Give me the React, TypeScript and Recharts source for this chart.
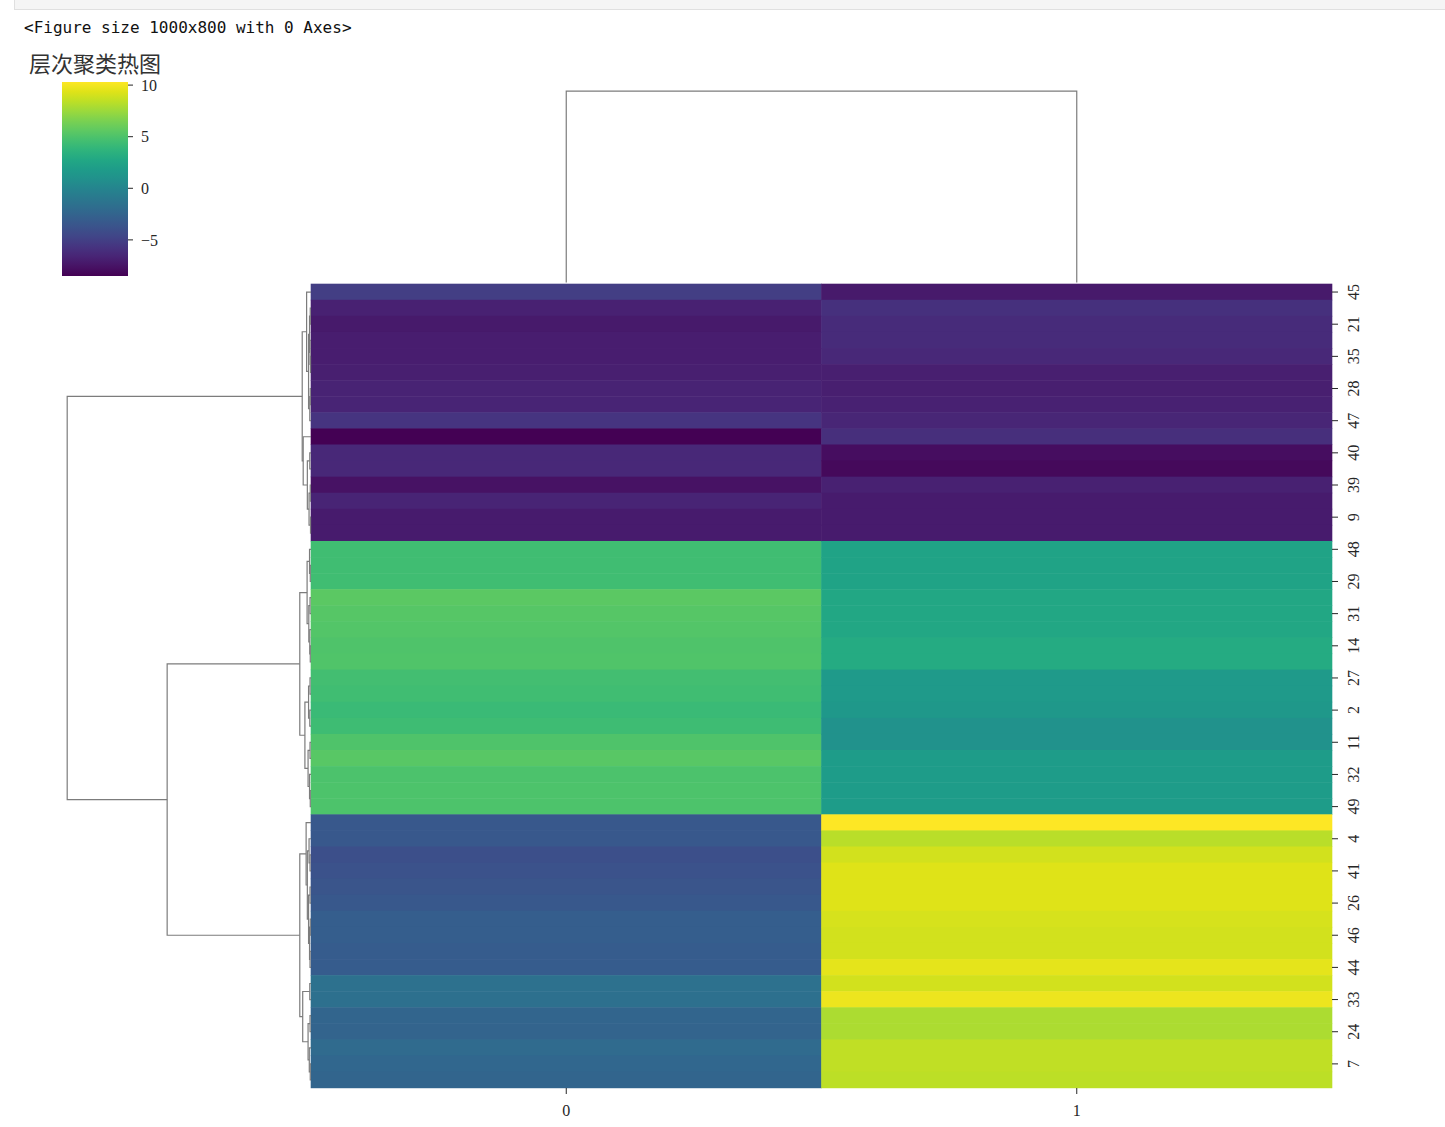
import React from 'react';
import { BarChart, Bar, Cell, XAxis, YAxis, ScatterChart, Scatter } from 'recharts';

const W = 1445;
const H = 1127;

// Row order (leaf order of the row dendrogram); only every other label is shown
const rowLabels = [
  45, 0, 21, 1, 35, 3, 28, 5, 47, 6, 40, 8, 39, 10, 9, 12,
  48, 13, 29, 15, 31, 16, 14, 17, 27, 18, 2, 19, 11, 20, 32, 22, 49,
  23, 4, 25, 41, 30, 26, 34, 46, 36, 44, 37, 33, 38, 24, 42, 7, 43,
];

// Column "0" values per row
const col0Values = [
  -5.1, -6.8, -7.2, -7.0, -7.0, -6.9, -6.7, -6.6, -5.7, -8.5, -6.4, -6.4, -7.6, -6.6, -7.1, -7.1,
  4.5, 4.5, 4.5, 5.5, 5.3, 5.2, 5.05, 5.1, 4.6, 4.5, 4.2, 4.4, 5.05, 5.4, 4.95, 5.0, 5.0,
  -3.4, -3.4, -4.0, -3.8, -3.6, -3.4, -2.9, -2.9, -3.05, -3.05, -1.55, -1.6, -2.4, -2.5, -2.0, -2.3, -2.4,
];

// Column "1" values per row
const col1Values = [
  -7.2, -5.9, -6.2, -6.2, -6.4, -6.9, -6.9, -6.8, -6.5, -6.0, -7.85, -8.1, -6.8, -7.1, -7.1, -7.1,
  2.4, 2.4, 2.4, 2.7, 2.7, 2.7, 3.0, 3.0, 1.65, 1.65, 1.5, 1.0, 1.0, 1.85, 1.85, 1.85, 1.85,
  10.3, 8.3, 9.0, 9.35, 9.35, 9.35, 9.1, 9.0, 9.0, 9.55, 9.0, 9.8, 7.95, 7.95, 8.5, 8.5, 8.4,
];

const columnTicks = [0.5, 1.5];
const colorbarTicks = [-5, 0, 5, 10];

// Row linkage tree: [height, left, right]; leaves are row positions
type Tree = number | [number, Tree, Tree];
const rowTree: Tree = [100,
  [3.6,
    [1.8, 0, [1.0, [0.6, [0.3, 1, 2], [0.4, 3, [0.2, 4, 5]]], [0.5, [0.3, 6, 7], 8]]],
    [3.2, 9, [1.5, [0.5, 10, 11], [0.8, [0.3, 12, 13], [0.2, 14, 15]]]]],
  [59,
    [4.6,
      [1.6, [0.6, 16, [0.3, 17, 18]], [0.9, [0.4, 19, 20], [0.5, 21, [0.3, 22, 23]]]],
      [2.5, [1.0, [0.4, 24, 25], [0.5, 26, 27]], [1.2, [0.4, 28, 29], [0.6, 30, [0.3, 31, 32]]]]],
    [4.6,
      [2.0, 33, [1.5, [0.8, 34, [0.4, 35, 36]], [1.0, [0.4, 37, 38], [0.6, [0.3, 39, 40], [0.4, 41, 42]]]]],
      [3.4, [0.5, 43, 44], [1.2, [0.4, 45, 46], [0.7, 47, [0.3, 48, 49]]]]]]];

// Column linkage tree
const colTree: Tree = [100, 0, 1];

const VIRIDIS = [
  '#440154', '#471365', '#482475', '#463480', '#414487', '#3b528b', '#355f8d',
  '#2f6c8e', '#2a788e', '#25848e', '#21918c', '#1e9c89', '#22a884', '#2fb47c',
  '#44bf70', '#5ec962', '#7ad151', '#9bd93c', '#bddf26', '#dfe318', '#fde725',
];

function hexToRgb(h: string) {
  return [parseInt(h.slice(1, 3), 16), parseInt(h.slice(3, 5), 16), parseInt(h.slice(5, 7), 16)];
}

function viridis(t: number) {
  const c = Math.max(0, Math.min(1, t)) * (VIRIDIS.length - 1);
  const i = Math.min(Math.floor(c), VIRIDIS.length - 2);
  const f = c - i;
  const a = hexToRgb(VIRIDIS[i]);
  const b = hexToRgb(VIRIDIS[i + 1]);
  const m = a.map((v, k) => Math.round(v + (b[k] - v) * f));
  return `rgb(${m[0]},${m[1]},${m[2]})`;
}

const allValues = [...col0Values, ...col1Values];
const vmin = Math.min(...allValues);
const vmax = Math.max(...allValues);
const colorOf = (v: number) => viridis((v - vmin) / (vmax - vmin));

const heatRows = rowLabels.map((lab, i) => ({
  label: String(lab),
  w0: 1,
  w1: 1,
  v0: col0Values[i],
  v1: col1Values[i],
}));

type Pt = { d: number; p: number };
function buildLinks(node: Tree, out: Pt[][]): { pos: number; h: number } {
  if (typeof node === 'number') return { pos: node + 0.5, h: 0 };
  const [h, l, r] = node;
  const a = buildLinks(l, out);
  const b = buildLinks(r, out);
  out.push([
    { d: a.h, p: a.pos },
    { d: h, p: a.pos },
    { d: h, p: b.pos },
    { d: b.h, p: b.pos },
  ]);
  return { pos: (a.pos + b.pos) / 2, h };
}

const rowLinks: Pt[][] = [];
buildLinks(rowTree, rowLinks);
const colLinks: Pt[][] = [];
buildLinks(colTree, colLinks);

const TEXT = '#262626';
const SERIF = '"Liberation Serif", "DejaVu Serif", serif';
const TREE_COLOR = '#7c7c7c';

const Nothing = () => <g />;

// Heat cell: rectangle drawn from the library-computed geometry, slightly
// padded so neighbouring cells do not leave anti-aliased seams.
const HeatCell = (props: any) => {
  const { x, y, width, height, fill } = props;
  return (
    <rect x={x - 0.3} y={y - 0.3} width={width + 0.6} height={height + 0.6} fill={fill} stroke="none" />
  );
};

const RowTick = (props: any) => {
  const { x, y, payload } = props;
  return (
    <g transform={`translate(${x + 13},${y})`}>
      <text transform="rotate(-90)" textAnchor="middle" dy="0.35em" fill={TEXT} fontSize={16} fontFamily={SERIF}>
        {payload.value}
      </text>
    </g>
  );
};

const fmtMinus = (v: number) => (v < 0 ? '\u2212' + Math.abs(v) : String(v));

export default function App() {
  const HEAT_LEFT = 311;
  const HEAT_RIGHT = 1332;
  const HEAT_TOP = 284;
  const HEAT_BOTTOM = 1088;

  const abs = (extra: any = {}) => ({ position: 'absolute' as const, left: 0, top: 0, ...extra });

  return (
    <div style={{ position: 'absolute', left: 0, top: 0, width: W, height: H, background: '#fff', overflow: 'hidden' }}>
      <div style={{ position: 'absolute', left: 14, top: -1, width: W - 14, height: 10, background: '#f5f5f5', borderBottom: '1px solid #e0e0e0', borderLeft: '1px solid #e0e0e0' }} />
      <div style={{ position: 'absolute', left: 24, top: 19.5, fontFamily: '"DejaVu Sans Mono", monospace', fontSize: 16, lineHeight: 1, color: '#111', whiteSpace: 'pre' }}>
        {'<Figure size 1000x800 with 0 Axes>'}
      </div>
      <div style={{ position: 'absolute', left: 29, top: 51, fontFamily: '"Noto Sans CJK SC", sans-serif', fontSize: 22, lineHeight: 1, color: '#333', whiteSpace: 'pre' }}>
        层次聚类热图
      </div>

      {/* Heatmap */}
      <div style={abs()}>
        <BarChart
          width={W}
          height={H}
          data={heatRows}
          layout="vertical"
          barCategoryGap={0}
          barGap={0}
          margin={{ left: HEAT_LEFT, right: W - HEAT_RIGHT - 50, top: HEAT_TOP, bottom: H - HEAT_BOTTOM - 30 }}
        >
          <XAxis
            type="number"
            domain={[0, 2]}
            ticks={columnTicks}
            tickFormatter={(v: number) => String(v - 0.5)}
            axisLine={false}
            tickSize={6}
            tickMargin={11}
            height={30}
            tickLine={{ stroke: TEXT }}
            tick={{ fill: TEXT, fontSize: 16, fontFamily: SERIF }}
          />
          <YAxis
            type="category"
            dataKey="label"
            orientation="right"
            width={50}
            interval={1}
            axisLine={false}
            tickSize={6}
            tickLine={{ stroke: TEXT }}
            tick={<RowTick />}
          />
          <Bar dataKey="w0" stackId="h" isAnimationActive={false} shape={<HeatCell />}>
            {heatRows.map((r, i) => (
              <Cell key={`a${i}`} fill={colorOf(r.v0)} />
            ))}
          </Bar>
          <Bar dataKey="w1" stackId="h" isAnimationActive={false} shape={<HeatCell />}>
            {heatRows.map((r, i) => (
              <Cell key={`b${i}`} fill={colorOf(r.v1)} />
            ))}
          </Bar>
        </BarChart>
      </div>

      {/* Row dendrogram */}
      <div style={abs()}>
        <ScatterChart width={W} height={H} margin={{ left: 55, right: W - HEAT_LEFT, top: HEAT_TOP, bottom: H - HEAT_BOTTOM }}>
          <XAxis type="number" dataKey="d" domain={[0, 105]} reversed hide />
          <YAxis type="number" dataKey="p" domain={[0, 50]} reversed hide />
          {rowLinks.map((lk, i) => (
            <Scatter
              key={`r${i}`}
              data={lk}
              line={{ stroke: TREE_COLOR, strokeWidth: 1.2 }}
              lineType="joint"
              shape={Nothing}
              isAnimationActive={false}
            />
          ))}
        </ScatterChart>
      </div>

      {/* Column dendrogram */}
      <div style={abs()}>
        <ScatterChart width={W} height={H} margin={{ left: HEAT_LEFT, right: W - HEAT_RIGHT, top: 81.5, bottom: H - 282.5 }}>
          <XAxis type="number" dataKey="p" domain={[0, 2]} hide />
          <YAxis type="number" dataKey="d" domain={[0, 105]} hide />
          {colLinks.map((lk, i) => (
            <Scatter
              key={`c${i}`}
              data={lk}
              line={{ stroke: TREE_COLOR, strokeWidth: 1.2 }}
              lineType="joint"
              shape={Nothing}
              isAnimationActive={false}
            />
          ))}
        </ScatterChart>
      </div>

      {/* Colorbar */}
      <div style={abs()}>
        <BarChart
          width={220}
          height={300}
          data={[{ k: 'cb', v: [vmin, vmax] }]}
          barCategoryGap={0}
          margin={{ left: 62, right: 220 - 128 - 50, top: 82, bottom: 300 - 276 }}
        >
          <defs>
            <linearGradient id="viridisGrad" x1="0" y1="0" x2="0" y2="1">
              {VIRIDIS.map((c, i) => VIRIDIS.length - 1 - i).map((j) => (
                <stop key={j} offset={`${(1 - j / (VIRIDIS.length - 1)) * 100}%`} stopColor={VIRIDIS[j]} />
              ))}
            </linearGradient>
          </defs>
          <XAxis dataKey="k" type="category" hide />
          <YAxis
            type="number"
            orientation="right"
            domain={[vmin, vmax]}
            ticks={colorbarTicks}
            tickFormatter={fmtMinus}
            width={50}
            axisLine={false}
            tickSize={5}
            tickMargin={8}
            tickLine={{ stroke: TEXT }}
            tick={{ fill: TEXT, fontSize: 16, fontFamily: SERIF, textAnchor: 'start' }}
            allowDataOverflow
          />
          <Bar dataKey="v" fill="url(#viridisGrad)" isAnimationActive={false} />
        </BarChart>
      </div>
    </div>
  );
}
